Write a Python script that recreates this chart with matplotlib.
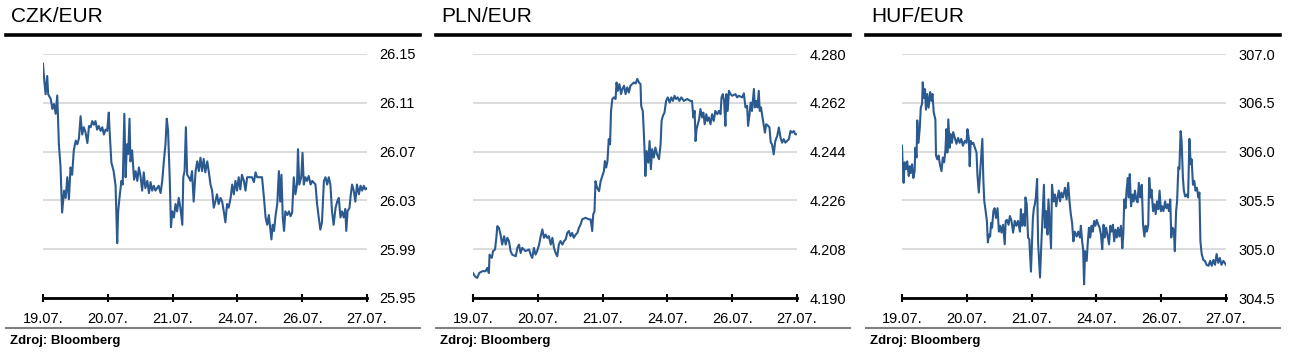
import matplotlib
matplotlib.use("Agg")
import matplotlib.pyplot as plt
from matplotlib.lines import Line2D

plt.rcParams['font.family'] = ['Liberation Sans', 'DejaVu Sans']

# x axis: trading time, 200 steps per labelled day
tick_pos = [0, 200, 400, 600, 800, 1000]
tick_labels = ["19.07.", "20.07.", "21.07.", "24.07.", "26.07.", "27.07."]

czk_x = [0, 3, 8, 13, 16, 24, 29, 34, 39, 44, 49, 54, 59, 65, 70, 75, 80, 85, 90, 95,
         101, 106, 111, 116, 121, 126, 131, 137, 142, 147, 152, 157, 162, 167, 172, 178,
         183, 188, 193, 198, 203, 205, 211, 218, 224, 229, 232, 236, 242, 246, 251, 255,
         259, 263, 267, 270, 275, 281, 286, 291, 296, 301, 306, 311, 316, 322, 327, 332,
         337, 342, 347, 357, 363, 368, 373, 378, 382, 386, 391, 395, 399, 404, 409, 414,
         419, 424, 430, 433, 437, 441, 445, 450, 455, 460, 465, 471, 476, 481, 486, 491,
         496, 501, 507, 512, 517, 522, 527, 532, 537, 542, 548, 553, 558, 563, 568, 573,
         579, 584, 589, 594, 599, 604, 609, 614, 620, 625, 630, 645, 651, 656, 661, 676,
         682, 687, 692, 697, 702, 705, 709, 713, 718, 723, 728, 732, 736, 740, 744, 748,
         754, 759, 764, 769, 774, 779, 784, 787, 791, 797, 801, 805, 810, 815, 820, 826,
         831, 841, 846, 851, 856, 861, 867, 872, 877, 882, 887, 892, 897, 903, 908, 913,
         918, 923, 928, 933, 936, 940, 946, 950, 954, 959, 964, 969, 975, 980, 985, 990,
         995, 1000]
czk_y = [26.142, 26.131, 26.117, 26.132, 26.117, 26.113, 26.105, 26.109, 26.101, 26.116,
         26.076, 26.058, 26.020, 26.038, 26.032, 26.049, 26.031, 26.057, 26.051, 26.071,
         26.079, 26.076, 26.081, 26.099, 26.084, 26.090, 26.086, 26.077, 26.091, 26.090,
         26.095, 26.092, 26.095, 26.088, 26.091, 26.087, 26.090, 26.084, 26.088, 26.087,
         26.102, 26.090, 26.061, 26.054, 26.042, 25.995, 26.021, 26.032, 26.046, 26.043,
         26.101, 26.049, 26.076, 26.068, 26.097, 26.062, 26.071, 26.047, 26.054, 26.046,
         26.057, 26.050, 26.038, 26.053, 26.040, 26.046, 26.036, 26.045, 26.038, 26.042,
         26.038, 26.042, 26.036, 26.046, 26.062, 26.076, 26.097, 26.087, 26.049, 26.008,
         26.021, 26.016, 26.027, 26.021, 26.032, 26.024, 26.010, 26.049, 26.054, 26.090,
         26.051, 26.049, 26.046, 26.054, 26.029, 26.054, 26.062, 26.054, 26.065, 26.054,
         26.064, 26.053, 26.062, 26.053, 26.043, 26.038, 26.024, 26.029, 26.035, 26.027,
         26.032, 26.029, 26.021, 26.012, 26.027, 26.024, 26.032, 26.043, 26.035, 26.046,
         26.038, 26.049, 26.039, 26.051, 26.046, 26.038, 26.049, 26.049, 26.045, 26.053,
         26.049, 26.049, 26.032, 26.016, 26.010, 26.018, 26.006, 25.998, 26.010, 26.005,
         26.018, 26.027, 26.054, 26.029, 26.051, 26.016, 26.005, 26.021, 26.018, 26.021,
         26.017, 26.020, 26.049, 26.035, 26.043, 26.072, 26.043, 26.049, 26.069, 26.043,
         26.049, 26.046, 26.050, 26.043, 26.046, 26.043, 26.027, 26.016, 26.006, 26.012,
         26.046, 26.049, 26.043, 26.049, 26.043, 26.021, 26.010, 26.024, 26.029, 26.032,
         26.016, 26.021, 26.016, 26.023, 26.005, 26.021, 26.024, 26.035, 26.043, 26.038,
         26.029, 26.043, 26.035, 26.042, 26.038, 26.042, 26.039, 26.040]

pln_x = [0, 6, 13, 19, 29, 39, 44, 49, 51, 58, 62, 68, 72, 75, 80, 85, 90, 96, 101, 106,
         111, 116, 121, 132, 137, 142, 147, 152, 162, 173, 178, 183, 188, 193, 198, 204,
         209, 214, 219, 224, 229, 234, 240, 245, 250, 255, 260, 265, 270, 276, 281, 286,
         291, 296, 301, 306, 311, 317, 322, 327, 332, 337, 347, 358, 363, 368, 371, 375,
         378, 383, 389, 394, 399, 404, 407, 411, 415, 419, 423, 426, 430, 435, 440, 443,
         447, 452, 457, 461, 466, 471, 476, 481, 486, 491, 497, 502, 507, 512, 517, 519,
         524, 527, 530, 532, 536, 541, 545, 549, 553, 558, 563, 568, 574, 579, 582, 586,
         591, 596, 601, 607, 612, 617, 622, 627, 632, 637, 643, 651, 661, 671, 676, 680,
         684, 687, 690, 694, 698, 702, 707, 711, 715, 720, 724, 728, 733, 738, 743, 748,
         754, 759, 764, 767, 771, 775, 779, 782, 786, 790, 795, 800, 810, 815, 820, 831,
         836, 841, 846, 849, 853, 857, 861, 867, 870, 874, 878, 882, 885, 889, 892, 897,
         901, 905, 911, 915, 919, 923, 928, 933, 939, 944, 949, 954, 959, 964, 969, 975,
         980, 985, 990, 995, 1000]
pln_y = [4.1992, 4.1980, 4.1974, 4.1992, 4.1999, 4.1999, 4.2011, 4.1992, 4.2060, 4.2048,
         4.2073, 4.2079, 4.2122, 4.2165, 4.2159, 4.2134, 4.2097, 4.2128, 4.2097, 4.2122,
         4.2110, 4.2073, 4.2060, 4.2054, 4.2085, 4.2097, 4.2066, 4.2085, 4.2073, 4.2079,
         4.2060, 4.2048, 4.2085, 4.2060, 4.2073, 4.2097, 4.2128, 4.2153, 4.2122, 4.2134,
         4.2122, 4.2128, 4.2097, 4.2122, 4.2085, 4.2066, 4.2054, 4.2097, 4.2110, 4.2097,
         4.2110, 4.2116, 4.2140, 4.2147, 4.2128, 4.2140, 4.2122, 4.2134, 4.2140, 4.2159,
         4.2171, 4.2190, 4.2196, 4.2190, 4.2190, 4.2147, 4.2208, 4.2220, 4.2331, 4.2307,
         4.2294, 4.2331, 4.2350, 4.2368, 4.2405, 4.2381, 4.2405, 4.2486, 4.2467, 4.2590,
         4.2634, 4.2640, 4.2634, 4.2695, 4.2664, 4.2689, 4.2652, 4.2671, 4.2683, 4.2652,
         4.2677, 4.2658, 4.2683, 4.2689, 4.2695, 4.2691, 4.2708, 4.2695, 4.2689, 4.2609,
         4.2590, 4.2516, 4.2430, 4.2350, 4.2442, 4.2399, 4.2479, 4.2375, 4.2449, 4.2418,
         4.2455, 4.2430, 4.2412, 4.2467, 4.2553, 4.2572, 4.2584, 4.2627, 4.2640, 4.2621,
         4.2640, 4.2627, 4.2646, 4.2634, 4.2640, 4.2627, 4.2640, 4.2627, 4.2634, 4.2627,
         4.2627, 4.2566, 4.2590, 4.2479, 4.2523, 4.2541, 4.2560, 4.2597, 4.2566, 4.2584,
         4.2541, 4.2578, 4.2553, 4.2566, 4.2541, 4.2578, 4.2553, 4.2590, 4.2578, 4.2590,
         4.2578, 4.2640, 4.2652, 4.2627, 4.2535, 4.2652, 4.2590, 4.2664, 4.2652, 4.2646,
         4.2652, 4.2640, 4.2646, 4.2640, 4.2655, 4.2603, 4.2609, 4.2535, 4.2572, 4.2621,
         4.2590, 4.2671, 4.2603, 4.2627, 4.2603, 4.2664, 4.2590, 4.2603, 4.2578, 4.2541,
         4.2510, 4.2541, 4.2535, 4.2529, 4.2473, 4.2467, 4.2430, 4.2479, 4.2498, 4.2529,
         4.2492, 4.2473, 4.2486, 4.2473, 4.2479, 4.2486, 4.2516, 4.2510, 4.2516, 4.2504,
         4.2504]

huf_x = [0, 2, 5, 8, 13, 16, 21, 24, 27, 31, 35, 39, 41, 45, 47, 51, 55, 58, 62, 64,
         68, 71, 74, 78, 82, 87, 91, 94, 98, 103, 105, 109, 113, 117, 122, 126, 130, 134,
         137, 140, 143, 147, 150, 154, 158, 163, 168, 173, 178, 183, 188, 194, 199, 202,
         206, 209, 212, 216, 220, 225, 230, 233, 237, 241, 245, 248, 251, 254, 257, 262,
         265, 269, 272, 275, 278, 282, 286, 290, 295, 299, 303, 307, 312, 317, 320, 324,
         329, 333, 338, 343, 348, 353, 358, 364, 367, 371, 375, 379, 381, 385, 389, 393,
         398, 401, 404, 407, 410, 413, 417, 420, 423, 426, 430, 434, 438, 441, 445, 449,
         452, 456, 460, 463, 468, 472, 476, 480, 484, 488, 492, 497, 503, 508, 513, 517,
         521, 525, 529, 533, 539, 544, 549, 552, 556, 559, 562, 565, 570, 573, 577, 581,
         585, 589, 593, 597, 601, 606, 610, 614, 618, 622, 626, 630, 634, 639, 643, 647,
         651, 655, 659, 663, 667, 671, 676, 680, 683, 686, 690, 693, 697, 700, 703, 707,
         711, 715, 719, 723, 727, 731, 735, 740, 744, 748, 752, 756, 760, 763, 767, 770,
         775, 779, 783, 787, 791, 795, 799, 803, 807, 812, 816, 820, 824, 828, 831, 835,
         839, 842, 846, 849, 853, 856, 860, 863, 867, 870, 874, 879, 883, 887, 891, 894,
         898, 902, 906, 910, 915, 918, 921, 925, 930, 935, 940, 946, 951, 956, 961, 966,
         971, 976, 981, 986, 992, 1000]
huf_y = [306.06, 305.87, 305.68, 305.89, 305.82, 305.90, 305.75, 305.85, 305.78, 305.87,
         305.73, 305.80, 306.04, 305.94, 306.32, 306.09, 306.25, 306.45, 306.49, 306.71,
         306.55, 306.64, 306.43, 306.59, 306.45, 306.61, 306.52, 306.59, 306.40, 306.33,
         305.96, 305.92, 305.96, 305.87, 305.80, 305.94, 305.89, 306.01, 306.23, 305.99,
         306.33, 306.04, 306.18, 306.09, 306.20, 306.14, 306.08, 306.14, 306.09, 306.13,
         306.06, 306.11, 306.09, 306.23, 306.14, 305.85, 306.11, 306.08, 306.09, 306.04,
         305.99, 305.75, 305.58, 305.78, 305.97, 306.13, 305.72, 305.49, 305.42, 305.29,
         305.07, 305.15, 305.13, 305.27, 305.22, 305.39, 305.42, 305.32, 305.42, 305.18,
         305.24, 305.17, 305.25, 305.05, 305.29, 305.30, 305.25, 305.34, 305.29, 305.17,
         305.29, 305.24, 305.29, 305.18, 305.41, 305.24, 305.36, 305.24, 305.53, 305.46,
         305.12, 305.10, 304.77, 305.05, 305.32, 305.42, 305.46, 305.53, 305.72, 305.07,
         304.88, 304.71, 305.05, 305.36, 305.66, 305.22, 305.39, 305.15, 305.51, 305.25,
         305.01, 305.66, 305.49, 305.56, 305.44, 305.53, 305.60, 305.49, 305.58, 305.53,
         305.63, 305.51, 305.68, 305.49, 305.36, 305.27, 305.08, 305.18, 305.13, 305.18,
         305.12, 305.24, 305.08, 305.00, 304.64, 304.98, 304.88, 305.05, 305.22, 305.12,
         305.24, 305.18, 305.29, 305.24, 305.30, 305.25, 305.22, 305.15, 305.00, 305.25,
         305.12, 305.22, 305.15, 305.05, 305.24, 305.18, 305.25, 305.08, 305.20, 305.12,
         305.22, 305.13, 305.24, 305.01, 305.15, 305.51, 305.42, 305.60, 305.73, 305.53,
         305.77, 305.44, 305.56, 305.49, 305.60, 305.51, 305.48, 305.68, 305.53, 305.66,
         305.25, 305.13, 305.24, 305.18, 305.25, 305.73, 305.53, 305.61, 305.39, 305.46,
         305.36, 305.49, 305.41, 305.60, 305.39, 305.44, 305.39, 305.49, 305.42, 305.46,
         305.39, 305.51, 305.12, 305.22, 305.20, 304.98, 305.39, 305.49, 305.84, 305.82,
         306.21, 306.11, 305.73, 305.60, 305.54, 305.56, 305.53, 306.13, 305.87, 305.92,
         305.66, 305.70, 305.60, 305.63, 305.53, 305.58, 305.08, 304.95, 304.89, 304.88,
         304.84, 304.83, 304.88, 304.83, 304.89, 304.84, 304.95, 304.86, 304.91, 304.84,
         304.88, 304.84]

panels = [
    ("CZK/EUR", czk_x, czk_y, [25.95, 25.99, 26.03, 26.07, 26.11, 26.15], "{:.2f}"),
    ("PLN/EUR", pln_x, pln_y, [4.190, 4.208, 4.226, 4.244, 4.262, 4.280], "{:.3f}"),
    ("HUF/EUR", huf_x, huf_y, [304.5, 305.0, 305.5, 306.0, 306.5, 307.0], "{:.1f}"),
]

W, H = 1297, 361
fig = plt.figure(figsize=(W / 100, H / 100), dpi=100)

line_color = "#2b5a90"
panel_left = [6, 436, 866]
axes_left = [43, 473, 902]

for i, (title, xs, ys, yt, fmt) in enumerate(panels):
    x0 = panel_left[i]
    ax = fig.add_axes([axes_left[i] / W, 1 - 298 / H, 324 / W, 244 / H])
    ax.plot(xs, ys, color=line_color, lw=1.5)
    ax.set_xlim(0, 1000)
    ax.set_ylim(yt[0], yt[-1])
    ax.set_yticks(yt)
    ax.set_yticklabels([fmt.format(v) for v in yt])
    ax.yaxis.tick_right()
    ax.tick_params(axis="y", length=0, pad=9, labelsize=10.5)
    ax.set_xticks(tick_pos)
    ax.set_xticklabels(tick_labels)
    ax.tick_params(axis="x", direction="inout", length=6, width=1.5, pad=7, labelsize=10.5)
    ax.grid(axis="y", color="#d9d9d9", lw=1.3)
    ax.set_axisbelow(True)
    for s in ["top", "left", "right"]:
        ax.spines[s].set_visible(False)
    ax.spines["bottom"].set_linewidth(2)
    ax.spines["bottom"].set_zorder(5)

    # header, rules and source
    fig.text((x0 + 5) / W, 1 - 17 / H, title, fontsize=15, va="center", ha="left")
    fig.add_artist(Line2D([x0 / W, (x0 + 414) / W], [1 - 35 / H, 1 - 35 / H],
                          color="black", lw=2.6))
    fig.add_artist(Line2D([x0 / W, (x0 + 414) / W], [1 - 328 / H, 1 - 328 / H],
                          color="#808080", lw=1.5))
    fig.text((x0 + 4) / W, 1 - 341 / H, "Zdroj: Bloomberg", fontsize=9.5,
             fontweight="bold", va="center", ha="left")

fig.savefig("out.png", dpi=100)
